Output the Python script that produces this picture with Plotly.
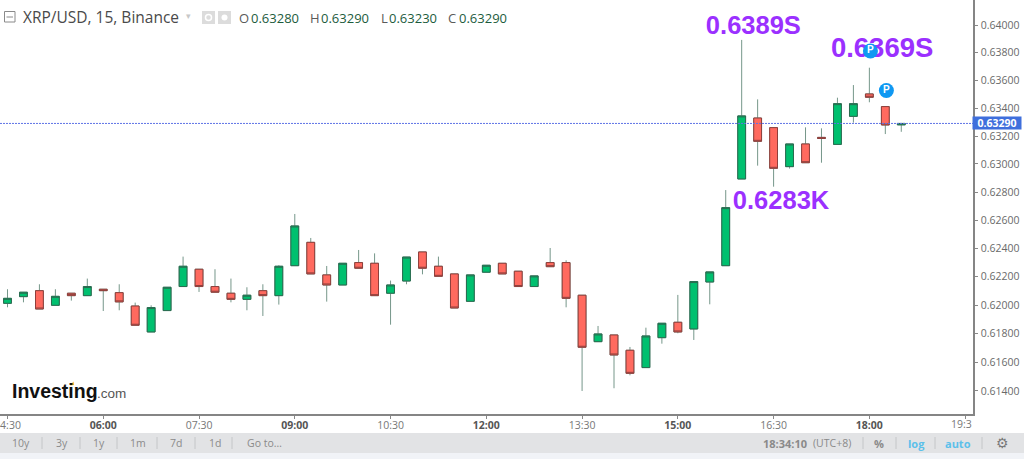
import math
import pandas as pd
import plotly.graph_objects as go

day = "2019-09-18"
times = [t.strftime("%Y-%m-%d %H:%M") for t in pd.date_range(day + " 04:30", periods=57, freq="15min")]

opens = [.62013, .62060, .62102, .61999, .62084, .62067, .62112, .62088, .61994, .61812,
         .61962, .62131, .62253, .62131, .62084, .62041, .62102, .62067, .62278, .62443,
         .62213, .62142, .62300, .62295, .62084, .62170, .62375, .62274, .62220, .62027,
         .62232, .62295, .62239, .62131, .62300, .62300, .62070, .61744, .61791, .61684,
         .61563, .61772, .61880, .61833, .62163, .62278, .62893, .63329, .63260, .62981,
         .63143, .63190, .63140, .63341, .63502, .63411, .63280]
highs = [.62112, .62091, .62147, .62112, .62084, .62187, .62112, .62147, .62018, .61999,
         .62126, .62342, .62253, .62253, .62187, .62126, .62147, .62281, .62644, .62474,
         .62276, .62295, .62389, .62365, .62173, .62339, .62375, .62342, .62220, .62213,
         .62281, .62295, .62239, .62206, .62403, .62316, .62070, .61854, .61791, .61707,
         .61842, .61873, .62072, .62166, .62234, .62814, .63892, .63463, .63260, .63143,
         .63262, .63255, .63475, .63566, .63691, .63411, .63290]
lows = [.61985, .62020, .61973, .61999, .62032, .62067, .61959, .61964, .61859, .61812,
        .61962, .62131, .62093, .62091, .62020, .61964, .61924, .62004, .62278, .62220,
        .62025, .62142, .62260, .62067, .61863, .62147, .62217, .62203, .61980, .62027,
        .62232, .62220, .62131, .62131, .62271, .61985, .61400, .61744, .61419, .61509,
        .61563, .61730, .61803, .61756, .62006, .62278, .62893, .62988, .62838, .62967,
        .63009, .63009, .63140, .63296, .63442, .63214, .63230]
closes = [.62048, .62091, .61973, .62062, .62067, .62131, .62102, .62023, .61859, .61983,
          .62126, .62274, .62131, .62091, .62041, .62070, .62067, .62274, .62559, .62220,
          .62142, .62295, .62260, .62067, .62142, .62339, .62260, .62203, .61980, .62213,
          .62281, .62220, .62131, .62206, .62271, .62048, .61705, .61798, .61651, .61523,
          .61784, .61873, .61812, .62166, .62234, .62689, .63344, .63162, .62969, .63143,
          .63009, .63183, .63432, .63432, .63478, .63279, .63290]

last_price = 0.6329
note_text = ["0.6389S", "0.6369S", "0.6283K"]
note_time = [day + " 16:11", day + " 18:12", day + " 16:37"]
note_price = [0.63979, 0.63815, 0.62722]
pin_time = [day + " 18:01", day + " 18:16"]
pin_price = [0.63812, 0.63527]

y_ticks = [.614, .616, .618, .620, .622, .624, .626, .628, .630, .632, .634, .636, .638, .640]
x_ticks = ["04:30", "06:00", "07:30", "09:00", "10:30", "12:00", "13:30", "15:00", "16:30", "18:00", "19:30"]
x_bold = ["06:00", "09:00", "12:00", "15:00", "18:00"]
range_buttons = ["10y", "3y", "1y", "1m", "7d", "1d", "Go to…"]
ohlc_labels = ["O", "H", "L", "C"]
ohlc_values = ["0.63280", "0.63290", "0.63230", "0.63290"]

W, H, PW, PH = 1024, 459, 973, 414
UI = "Open Sans"
px = lambda x: x / PW
py = lambda y: (PH - y) / PH

fig = go.Figure()
wick = "#76978a"
fig.add_trace(go.Candlestick(
    x=times, open=opens, high=highs, low=lows, close=closes, whiskerwidth=0,
    increasing=dict(line=dict(color=wick, width=1), fillcolor=wick),
    decreasing=dict(line=dict(color=wick, width=1), fillcolor=wick),
    hoverinfo="skip", showlegend=False))
fig.add_trace(go.Candlestick(
    x=times, open=opens, close=closes, whiskerwidth=0,
    high=[max(a, b) for a, b in zip(opens, closes)],
    low=[min(a, b) for a, b in zip(opens, closes)],
    increasing=dict(line=dict(color="#2a6b50", width=1), fillcolor="#00c06f"),
    decreasing=dict(line=dict(color="#8f3f3c", width=1), fillcolor="#ff6a5f"),
    hoverinfo="skip", showlegend=False))
fig.add_trace(go.Scatter(
    x=note_time, y=note_price, text=note_text, mode="text", textposition="middle center",
    textfont=dict(family="Liberation Sans", size=[25.5, 27.5, 25.5], color="#9b30ff", weight=700),
    hoverinfo="skip", showlegend=False))
fig.add_trace(go.Scatter(
    x=pin_time, y=pin_price, text=["P", "P"], mode="markers+text", textposition="middle center",
    marker=dict(size=15, color="#0f98f2"),
    textfont=dict(family="Liberation Sans", size=10, color="white", weight=700),
    hoverinfo="skip", showlegend=False))

shapes = [
    dict(type="line", xref="paper", yref="y", x0=0, x1=1, y0=last_price, y1=last_price,
         line=dict(color="#5f73e6", width=1, dash="2px,1px"), layer="above"),
    dict(type="rect", xref="paper", yref="paper", x0=0, x1=px(W), y0=py(453), y1=py(433),
         fillcolor="#e2e3e5", line_width=0, layer="below"),
    dict(type="rect", xref="paper", yref="paper", x0=0, x1=px(W), y0=py(H), y1=py(453),
         fillcolor="#f1f3f7", line_width=0, layer="below"),
    dict(type="rect", xref="paper", yref="paper", x0=px(4.5), x1=px(15), y0=py(22), y1=py(11.5),
         fillcolor="white", line=dict(color="#8a8a8a", width=1)),
    dict(type="line", xref="paper", yref="paper", x0=px(6.5), x1=px(13), y0=py(17), y1=py(17),
         line=dict(color="#8a8a8a", width=1)),
    dict(type="rect", xref="paper", yref="paper", x0=px(202), x1=px(215), y0=py(24), y1=py(11),
         fillcolor="#dcdcdc", line_width=0),
    dict(type="rect", xref="paper", yref="paper", x0=px(218), x1=px(231), y0=py(24), y1=py(11),
         fillcolor="#dcdcdc", line_width=0),
    dict(type="circle", xref="paper", yref="paper", x0=px(205.5), x1=px(211.5), y0=py(20.5), y1=py(14.5),
         fillcolor="#dcdcdc", line=dict(color="white", width=1.5)),
    dict(type="circle", xref="paper", yref="paper", x0=px(221.5), x1=px(227.5), y0=py(20.5), y1=py(14.5),
         fillcolor="white", line_width=0),
    dict(type="path", xref="paper", yref="paper", layer="above",
         path=f"M {px(70)} {py(385.5)} L {px(73.5)} {py(381.5)} L {px(74)} {py(385)} Z",
         fillcolor="#f5a623", line_width=0),
]
for x in [42, 80, 117, 157, 195, 232, 863, 896, 935, 982]:
    shapes.append(dict(type="line", xref="paper", yref="paper", x0=px(x), x1=px(x),
                       y0=py(449), y1=py(437), line=dict(color="#c4c6c8", width=1)))

def label(x, y, text, size=11, color="#666", anchor="left", family=UI, weight=None):
    return dict(xref="paper", yref="paper", x=px(x), y=py(y), text=text, showarrow=False,
                xanchor=anchor, yanchor="middle", borderpad=0,
                font=dict(family=family, size=size, color=color, weight=weight))

ann = [label(22, 17, "XRP/USD, 15, Binance", 15.5, "#4a4a4a"),
       label(188, 16, "▾", 9, "#c8c8c8", "center", "DejaVu Sans")]
for x, vx, a, b in zip([238, 309, 380, 447], [250, 320, 388, 458], ohlc_labels, ohlc_values):
    ann.append(label(x, 18, a, 13, "#5a5a5a"))
    ann.append(label(vx, 18, b, 13, "#1d5c3d"))
ann.append(label(11, 391, '<b>Investing</b>', 19.5, "#111", family="Liberation Sans"))
ann.append(label(96, 393, '.com', 13.5, "#555", family="Liberation Sans"))
for x, t in zip([21, 61.5, 98.5, 137.5, 176, 214.5, 264], range_buttons):
    ann.append(label(x, 443, t, 10.5, "#8a8a8a", "center"))
ann += [label(785, 443, "<b>18:34:10</b>", 11, "#8a8a8a", "center"),
        label(832, 443, "(UTC+8)", 10.5, "#8a8a8a", "center"),
        label(879, 443, "<b>%</b>", 11, "#8a8a8a", "center"),
        label(916, 443, "<b>log</b>", 11, "#5cc0ea", "center"),
        label(958, 443, "<b>auto</b>", 11, "#5cc0ea", "center"),
        label(1002, 443, "⚙", 14, "#7a7a7a", "center", "DejaVu Sans"),
        label(973, 424, "19:3", 10.5, "#777", "right"),
        dict(xref="paper", yref="y", x=px(997), y=math.log10(last_price), text="<b>0.63290</b>",
             showarrow=False, xanchor="center", yanchor="middle", width=48, height=12, bgcolor="#3f6fdc",
             borderpad=0, font=dict(family=UI, size=10.5, color="white"))]

fig.update_layout(
    width=W, height=H, margin=dict(l=0, r=W - PW, t=0, b=H - PH, pad=0),
    paper_bgcolor="white", plot_bgcolor="white", showlegend=False, boxgap=0.3, boxmode="overlay",
    shapes=shapes, annotations=ann,
    xaxis=dict(type="date", rangeslider=dict(visible=False), automargin=False,
               range=[day + " 04:22:57", day + " 19:37:24"],
               tickmode="array", tickvals=[f"{day} {t}" for t in x_ticks],
               ticktext=["" if t == "19:30" else (f'<b style="color:#555">{t}</b>' if t in x_bold else t) for t in x_ticks],
               ticks="outside", ticklen=3, tickcolor="#888", showgrid=False, zeroline=False,
               showline=True, linecolor="#858585", linewidth=1.5, ticklabeloverflow="allow",
               ticklabelstandoff=-2, tickfont=dict(family=UI, size=10.5, color="#777")),
    yaxis=dict(type="log", side="right", automargin=False, range=[math.log10(0.61240), math.log10(0.641816)],
               tickmode="array", tickvals=y_ticks, ticktext=[f"{v:.5f}" for v in y_ticks],
               ticks="outside", ticklen=3, tickcolor="#888", showgrid=False, zeroline=False,
               showline=True, linecolor="#858585", linewidth=1.5, ticklabelstandoff=1,
               tickfont=dict(family=UI, size=10.5, color="#6a6a6a")),
)
fig.write_html("out.html", config=dict(displayModeBar=False),
               post_script="document.body.style.margin='0';document.body.style.overflow='hidden';")
